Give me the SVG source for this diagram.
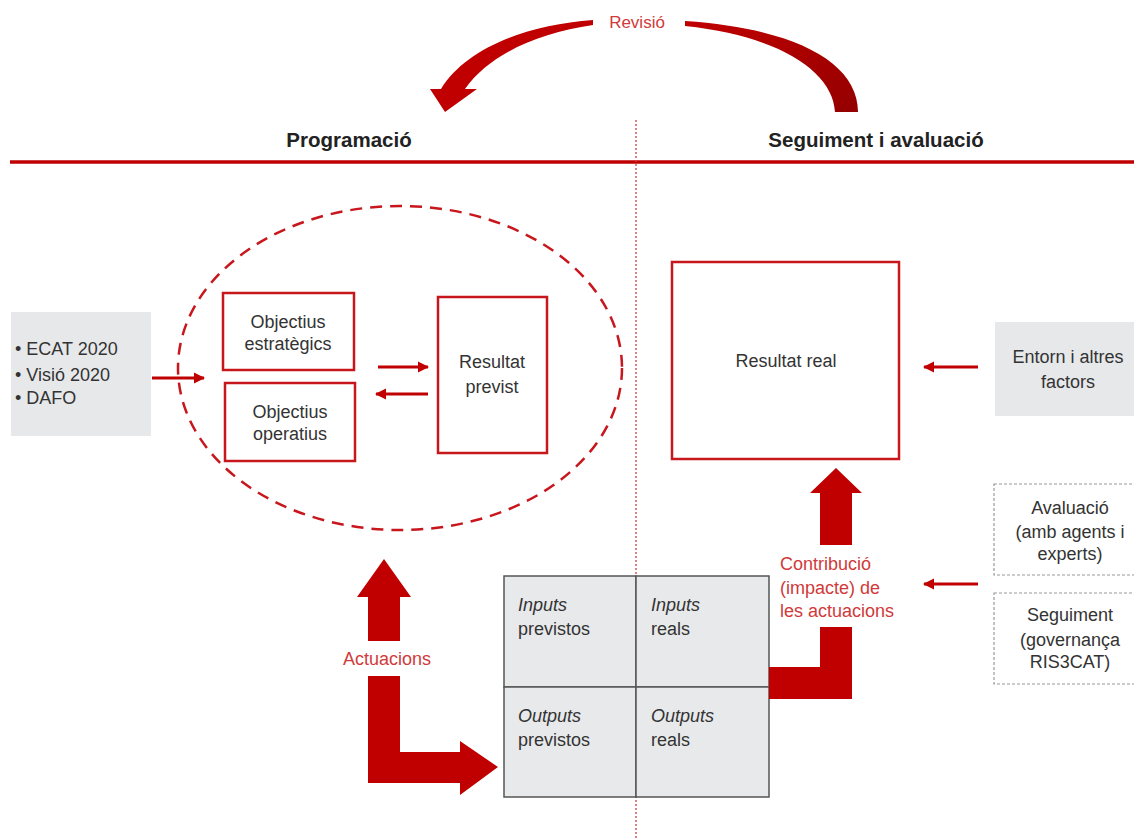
<svg xmlns="http://www.w3.org/2000/svg" width="1134" height="839" viewBox="0 0 1134 839">
<style>
text{font-family:"Liberation Sans",Arial,sans-serif;font-size:18px;fill:#333}
.t{font-weight:bold;font-size:20.5px;fill:#222}
.r{fill:#d03a3a}
.m{text-anchor:middle}
.i{font-style:italic}
.box{fill:#fff;stroke:#c8161d;stroke-width:2.5}
.grey{fill:#e7e8ea}
.dot{fill:#fff;stroke:#9a9a9a;stroke-width:1.2;stroke-dasharray:3 2}
.cell{fill:#e8e9eb;stroke:#555;stroke-width:1.5}
.ln{stroke:#c00000;stroke-width:2.8;fill:none}
.big{fill:#c00000}
</style>
<defs>
<marker id="ah" viewBox="0 0 10 10" refX="9" refY="5" markerWidth="4" markerHeight="4" orient="auto" markerUnits="strokeWidth">
<path d="M0,0 L10,5 L0,10 z" fill="#c00000"/>
</marker>
<linearGradient id="rg" x1="0" y1="0" x2="1" y2="1">
<stop offset="0" stop-color="#c00000"/>
<stop offset="1" stop-color="#940000"/>
</linearGradient>
</defs>
<rect width="1134" height="839" fill="#fff"/>

<g id="header">
<line x1="10" y1="162" x2="1134" y2="162" stroke="#c00000" stroke-width="3.5"/>
<line x1="636" y1="120" x2="636" y2="839" stroke="#d04040" stroke-width="1.3" stroke-dasharray="2 2"/>
<text class="t m" x="349" y="147">Programació</text>
<text class="t m" x="876" y="147">Seguiment i avaluació</text>
</g>

<g id="revisio">
<path class="big" d="M441,89 C466,48 526,25 593,20 L593,25 C538,33 490,54 465,89 L477,89 L445,112 L430,89 Z"/>
<path fill="url(#rg)" d="M685,21 C790,28 858,60 858,112 L835,112 C833,72 780,36 685,26 Z"/>
<text class="r m" x="637" y="28" style="font-size:17px">Revisió</text>
</g>

<g id="ellipse">
<ellipse cx="400" cy="368" rx="222" ry="162" fill="none" stroke="#c8161d" stroke-width="2.5" stroke-dasharray="12 8"/>
</g>

<g id="inputs-left">
<rect class="grey" x="11" y="312" width="140" height="124"/>
<text x="15" y="355">• ECAT 2020</text>
<text x="15" y="381">• Visió 2020</text>
<text x="15" y="404">• DAFO</text>
</g>

<g id="obj-estrategics">
<rect class="box" x="223" y="293" width="131" height="77"/>
<text class="m" x="288" y="328">Objectius</text>
<text class="m" x="288" y="350">estratègics</text>
</g>

<g id="obj-operatius">
<rect class="box" x="225" y="383" width="130" height="78"/>
<text class="m" x="290" y="418">Objectius</text>
<text class="m" x="290" y="440">operatius</text>
</g>

<g id="resultat-previst">
<rect class="box" x="438" y="297" width="109" height="156"/>
<text class="m" x="492" y="368">Resultat</text>
<text class="m" x="492" y="393">previst</text>
</g>

<g id="resultat-real">
<rect class="box" x="672" y="262" width="227" height="197"/>
<text class="m" x="786" y="367">Resultat real</text>
</g>

<g id="entorn">
<rect class="grey" x="995" y="322" width="139" height="94"/>
<text class="m" x="1068" y="363">Entorn i altres</text>
<text class="m" x="1068" y="388">factors</text>
</g>

<g id="avaluacio">
<rect class="dot" x="994" y="484" width="145" height="91"/>
<text class="m" x="1070" y="514">Avaluació</text>
<text class="m" x="1070" y="538">(amb agents i</text>
<text class="m" x="1070" y="560">experts)</text>
</g>

<g id="seguiment">
<rect class="dot" x="994" y="593" width="145" height="91"/>
<text class="m" x="1070" y="621">Seguiment</text>
<text class="m" x="1070" y="646">(governança</text>
<text class="m" x="1070" y="668">RIS3CAT)</text>
</g>

<g id="grid">
<rect class="cell" x="504" y="576" width="132" height="111"/>
<rect class="cell" x="636" y="576" width="133" height="111"/>
<rect class="cell" x="504" y="687" width="132" height="110"/>
<rect class="cell" x="636" y="687" width="133" height="110"/>
<text class="i" x="518" y="611">Inputs</text>
<text x="518" y="635">previstos</text>
<text class="i" x="651" y="611">Inputs</text>
<text x="651" y="635">reals</text>
<text class="i" x="518" y="722">Outputs</text>
<text x="518" y="746">previstos</text>
<text class="i" x="651" y="722">Outputs</text>
<text x="651" y="746">reals</text>
</g>

<g id="connectors">
<line class="ln" x1="152" y1="378" x2="204" y2="378" marker-end="url(#ah)"/>
<line class="ln" x1="378" y1="367" x2="428" y2="367" marker-end="url(#ah)"/>
<line class="ln" x1="428" y1="394" x2="376" y2="394" marker-end="url(#ah)"/>
<line class="ln" x1="978" y1="367" x2="924" y2="367" marker-end="url(#ah)"/>
<line class="ln" x1="978" y1="584" x2="924" y2="584" marker-end="url(#ah)"/>
<path class="big" d="M368,641 L368,597 L357,597 L384,559 L411,597 L400,597 L400,641 Z"/>
<path class="big" d="M368,676 L400,676 L400,752 L460,752 L460,741 L498,767 L460,795 L460,783 L368,783 Z"/>
<path class="big" d="M769,667 L820,667 L820,627 L852,627 L852,699 L769,699 Z"/>
<path class="big" d="M820,545 L820,493 L810,493 L836,468 L862,493 L852,493 L852,545 Z"/>
<text class="r m" x="387" y="665">Actuacions</text>
<text class="r" x="780" y="570">Contribució</text>
<text class="r" x="780" y="594">(impacte) de</text>
<text class="r" x="780" y="617">les actuacions</text>
</g>
</svg>
